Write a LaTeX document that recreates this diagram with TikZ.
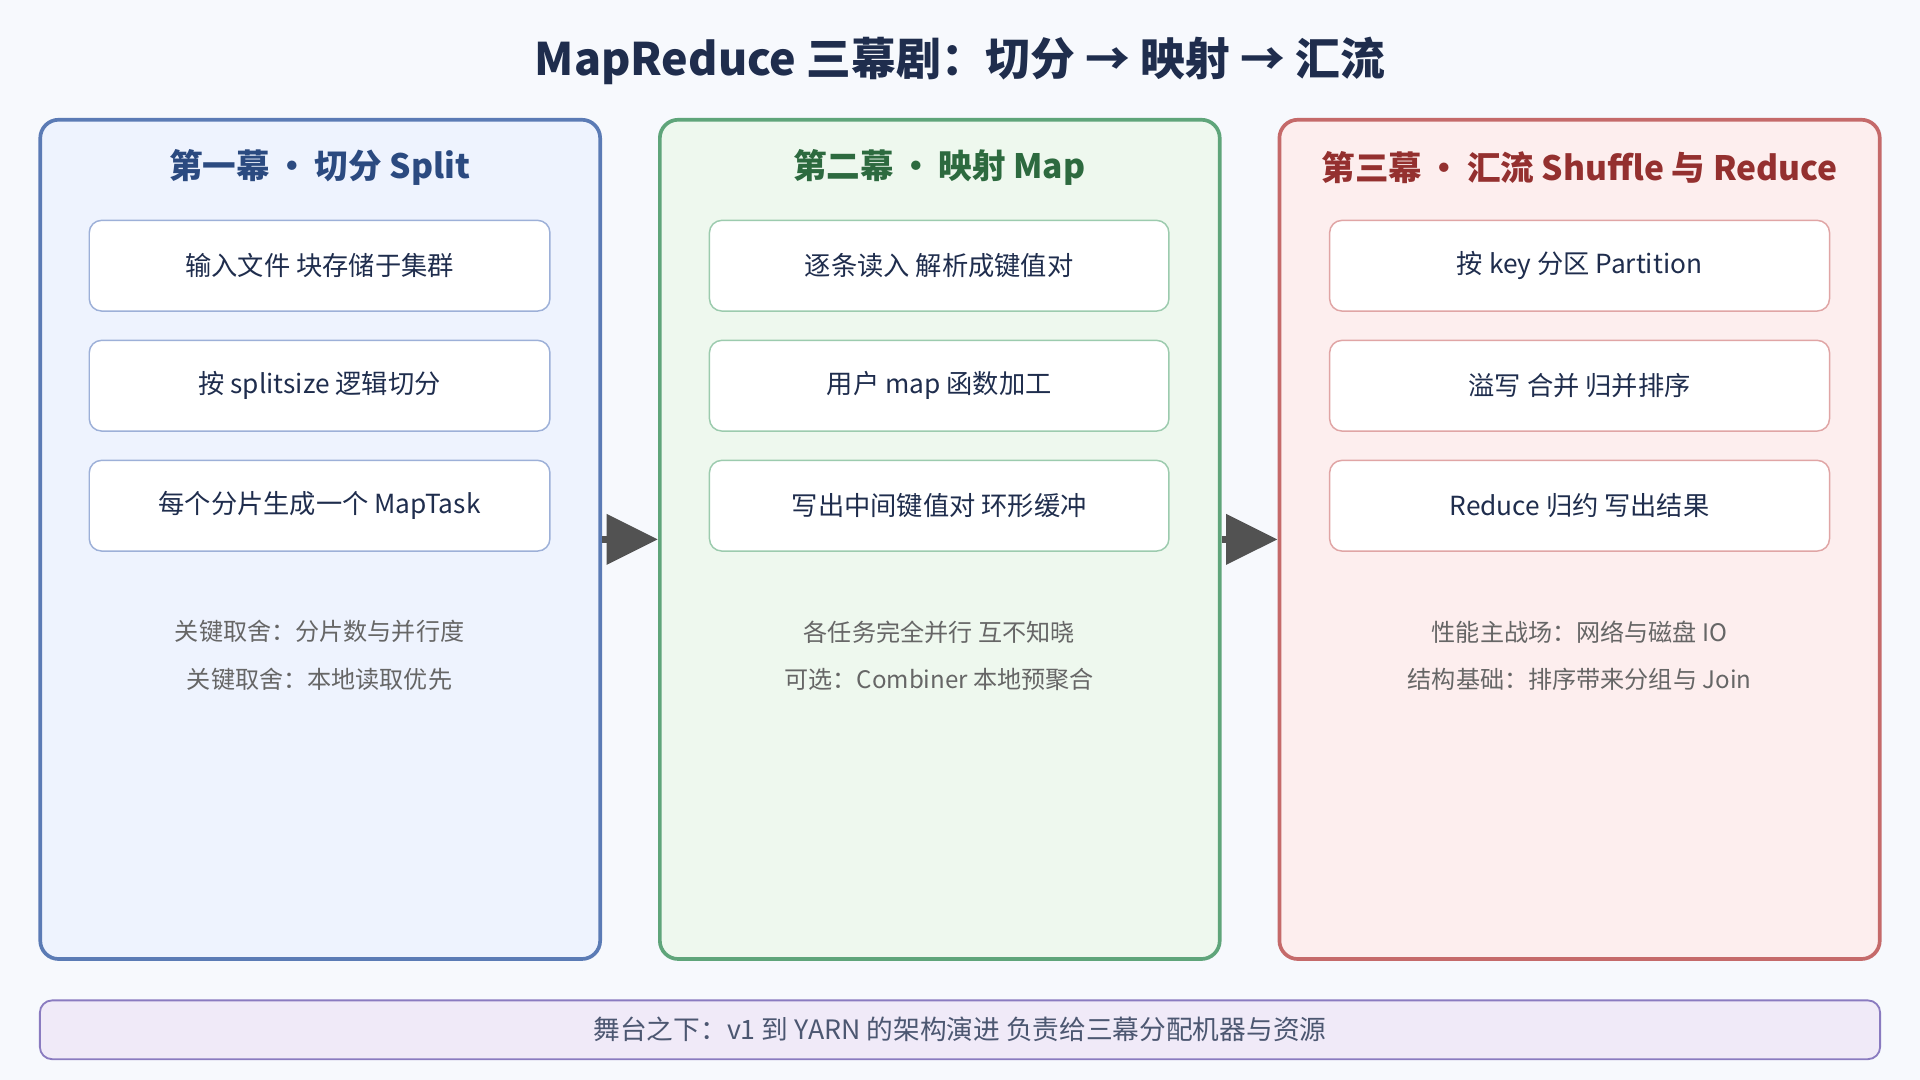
\documentclass[tikz,border=0pt]{standalone}
\usepackage{fontspec}
\setmainfont{Noto Sans CJK SC}
\usepackage{tikz}
\usetikzlibrary{arrows.meta}
\definecolor{bgc}{HTML}{F7F9FD}
\definecolor{navy}{HTML}{1F2D4D}
\definecolor{bluefill}{HTML}{EEF3FE}
\definecolor{blueline}{HTML}{5B7BB5}
\definecolor{bluetext}{HTML}{2B4A80}
\definecolor{bluebox}{HTML}{9DB0D8}
\definecolor{greenfill}{HTML}{EEF8EE}
\definecolor{greenline}{HTML}{5FA57A}
\definecolor{greentext}{HTML}{2D6A3F}
\definecolor{greenbox}{HTML}{9CCBAE}
\definecolor{redfill}{HTML}{FDEEEE}
\definecolor{redline}{HTML}{C56A6A}
\definecolor{redtext}{HTML}{94302F}
\definecolor{redbox}{HTML}{E0A5A5}
\definecolor{barfill}{HTML}{F0EAF8}
\definecolor{barline}{HTML}{8A7BC0}
\definecolor{notec}{HTML}{666666}
\tikzset{
    panel/.style={draw, rounded corners=0.15cm, line width=0.03cm},
    stage/.style={draw, fill=white, rounded corners=0.1cm, line width=0.012cm, font=\fontsize{6.1pt}{7pt}\selectfont, text=navy},
    note/.style={font=\fontsize{5.6pt}{6pt}\selectfont, text=notec},
    head/.style={font=\fontsize{7.8pt}{9pt}\selectfont\bfseries},
    flow/.style={-{Triangle[length=0.42cm,width=0.4cm]}, line width=0.06cm, draw=black!68},
}

\begin{document}
\begin{tikzpicture}[x=0.01cm, y=-0.01cm]
    \fill[bgc] (0,0) rectangle (1568,882);
    \node[font=\fontsize{10.4pt}{12pt}\selectfont\bfseries, text=navy] (title) at (784,50) {MapReduce 三幕剧：切分 → 映射 → 汇流};

    % panels
    \node[panel, draw=blueline, fill=bluefill, minimum width=4.57cm, minimum height=6.85cm] (split) at (261.5,440.5) {};
    \node[panel, draw=greenline, fill=greenfill, minimum width=4.57cm, minimum height=6.85cm] (map) at (767.5,440.5) {};
    \node[panel, draw=redline, fill=redfill, minimum width=4.9cm, minimum height=6.85cm] (reduce) at (1290,440.5) {};

    \node[head, text=bluetext] (splithead) at (261,137) {第一幕\,•\,切分 Split};
    \node[head, text=greentext] (maphead) at (767,137) {第二幕\,•\,映射 Map};
    \node[head, text=redtext] (reducehead) at (1290,137) {第三幕\,•\,汇流 Shuffle 与 Reduce};

    % act one
    \node[stage, draw=bluebox, minimum width=3.76cm, minimum height=0.74cm] (s1) at (261,217) {输入文件 块存储于集群};
    \node[stage, draw=bluebox, minimum width=3.76cm, minimum height=0.74cm] (s2) at (261,315) {按 splitsize 逻辑切分};
    \node[stage, draw=bluebox, minimum width=3.76cm, minimum height=0.74cm] (s3) at (261,413) {每个分片生成一个 MapTask};
    \node[note] (sn1) at (261,516) {关键取舍：分片数与并行度};
    \node[note] (sn2) at (261,555) {关键取舍：本地读取优先};

    % act two
    \node[stage, draw=greenbox, minimum width=3.75cm, minimum height=0.74cm] (m1) at (767,217) {逐条读入 解析成键值对};
    \node[stage, draw=greenbox, minimum width=3.75cm, minimum height=0.74cm] (m2) at (767,315) {用户 map 函数加工};
    \node[stage, draw=greenbox, minimum width=3.75cm, minimum height=0.74cm] (m3) at (767,413) {写出中间键值对 环形缓冲};
    \node[note] (mn1) at (767,516) {各任务完全并行 互不知晓};
    \node[note] (mn2) at (767,555) {可选：Combiner 本地预聚合};

    % act three
    \node[stage, draw=redbox, minimum width=4.08cm, minimum height=0.74cm] (r1) at (1290,217) {按 key 分区 Partition};
    \node[stage, draw=redbox, minimum width=4.08cm, minimum height=0.74cm] (r2) at (1290,315) {溢写 合并 归并排序};
    \node[stage, draw=redbox, minimum width=4.08cm, minimum height=0.74cm] (r3) at (1290,413) {Reduce 归约 写出结果};
    \node[note] (rn1) at (1290,516) {性能主战场：网络与磁盘 IO};
    \node[note] (rn2) at (1290,555) {结构基础：排序带来分组与 Join};

    % flow between acts
    \draw[flow] (split.east) -- (map.west);
    \draw[flow] (map.east) -- (reduce.west);

    % base
    \node[draw=barline, fill=barfill, rounded corners=0.1cm, line width=0.015cm, minimum width=15.02cm, minimum height=0.48cm, font=\fontsize{6.2pt}{7pt}\selectfont, text=navy!80] (base) at (784,841) {舞台之下：v1 到 YARN 的架构演进 负责给三幕分配机器与资源};
\end{tikzpicture}
\end{document}
